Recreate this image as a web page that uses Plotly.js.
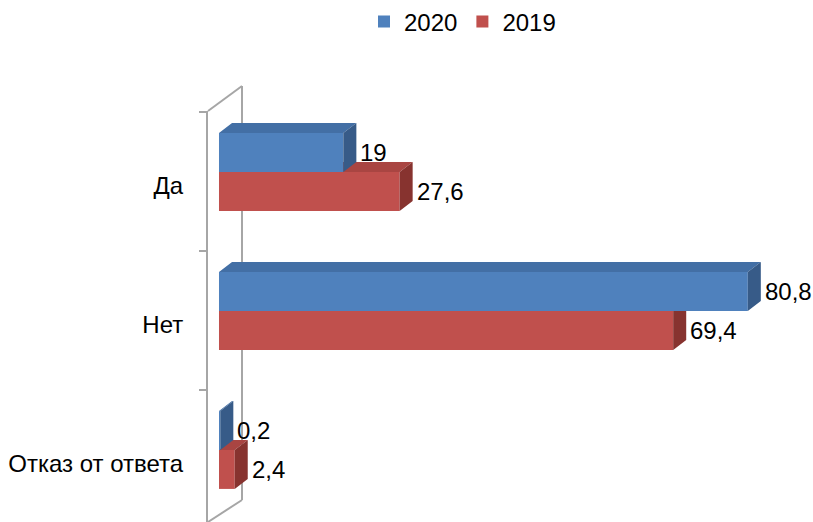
<!DOCTYPE html>
<html><head><meta charset="utf-8">
<script src="https://cdn.plot.ly/plotly-3.0.1.min.js"></script>
<style>html,body{margin:0;padding:0;background:#fff}</style>
</head><body><div id="chart" style="width:813px;height:522px"></div>
<script>
// ---- data ----
const categories = ['Да', 'Нет', 'Отказ от ответа'];
const seriesNames = ['2020', '2019'];
const values2020 = [19, 80.8, 0.2];
const values2019 = [27.6, 69.4, 2.4];
const catPos = [0, 1, 2];

// ---- style constants ----
const W = 0.28;      // bar thickness (y units)
const DX = 1.99;     // 3D depth along x (x units)
const DY = 0.072;    // 3D depth along y (y units)
const FONT = {family: 'Liberation Sans, Arial, sans-serif', size: 24, color: '#000'};
const BLUE = {front: '#4F81BD', top: '#436FA5', side: '#375B88'};
const RED = {front: '#C0504D', top: '#A94542', side: '#87332F'};
const WALL = '#A6A6A6';

function fmt(v) { return String(v).replace('.', ','); }

function faces(vals, upper) {
  const top = {x: [], y: []}, side = {x: [], y: []};
  vals.forEach((v, i) => {
    const y0 = catPos[i] + (upper ? -W : 0), y1 = y0 + W;
    top.x.push(0, DX, v + DX, v, null);
    top.y.push(y0, y0 - DY, y0 - DY, y0, null);
    side.x.push(v, v + DX, v + DX, v, null);
    side.y.push(y0, y0 - DY, y1 - DY, y1, null);
  });
  return [top, side];
}

function faceTrace(f, color, xa, ya) {
  return {type: 'scatter', mode: 'lines', x: f.x, y: f.y, fill: 'toself',
          fillcolor: color, line: {width: 0, color: color}, hoverinfo: 'skip',
          showlegend: false, xaxis: xa, yaxis: ya};
}

const [bTop, bSide] = faces(values2020, true);
const [rTop, rSide] = faces(values2019, false);

const data = [
  {type: 'bar', orientation: 'h', name: seriesNames[0], x: values2020, y: catPos,
   width: W, offset: -W, marker: {color: BLUE.front, line: {width: 0}},
   xaxis: 'x2', yaxis: 'y2', hoverinfo: 'skip'},
  {type: 'bar', orientation: 'h', name: seriesNames[1], x: values2019, y: catPos,
   width: W, offset: 0, marker: {color: RED.front, line: {width: 0}},
   xaxis: 'x', yaxis: 'y', hoverinfo: 'skip'},
  faceTrace(rTop, RED.top, 'x', 'y'),
  faceTrace(rSide, RED.side, 'x', 'y'),
  faceTrace(bTop, BLUE.top, 'x2', 'y2'),
  faceTrace(bSide, BLUE.side, 'x2', 'y2')
];

const annotations = [];
values2020.forEach((v, i) => annotations.push({xref: 'x2', yref: 'y2', x: v, y: catPos[i] - W / 2,
  text: fmt(v), xanchor: 'left', yanchor: 'middle', xshift: 15, showarrow: false, font: FONT}));
values2019.forEach((v, i) => annotations.push({xref: 'x', yref: 'y', x: v, y: catPos[i] + W / 2,
  text: fmt(v), xanchor: 'left', yanchor: 'middle', xshift: 15, showarrow: false, font: FONT}));

// plot area: left 208, right 808, top 111, bottom 522
const L = 208, R = 808, T = 111, B = 522;
const px = x => (x - L) / (R - L);
const py = y => (B - y) / (B - T);
const shapes = [
  {type: 'line', xref: 'paper', yref: 'paper', x0: px(208), y0: py(111), x1: px(242), y1: py(86), line: {color: WALL, width: 2}, layer: 'below'},
  {type: 'line', xref: 'paper', yref: 'paper', x0: px(242), y0: py(86), x1: px(242), y1: py(500), line: {color: WALL, width: 2}, layer: 'below'},
  {type: 'line', xref: 'paper', yref: 'paper', x0: px(242), y0: py(500), x1: px(208), y1: py(522), line: {color: WALL, width: 2}, layer: 'below'}
];

const xr = [-1.68, 90];
const yr = [2.518, -0.4388];
const layout = {
  width: 813, height: 522,
  margin: {l: L, r: 813 - R, t: T, b: 0, pad: 0},
  paper_bgcolor: '#fff', plot_bgcolor: 'rgba(0,0,0,0)',
  font: FONT,
  barmode: 'overlay',
  showlegend: true,
  legend: {orientation: 'h', xref: 'container', yref: 'container', x: 364 / 813, xanchor: 'left',
           y: 1 - 22 / 522, yanchor: 'middle', font: FONT, traceorder: 'normal'},
  xaxis: {range: xr, visible: false, fixedrange: true},
  xaxis2: {range: xr, visible: false, overlaying: 'x', fixedrange: true},
  yaxis: {range: yr, tickmode: 'array', tickvals: catPos, ticktext: categories, ticks: '',
          showline: true, linecolor: WALL, linewidth: 2, showgrid: false, zeroline: false,
          ticklabelshift: -14, ticklabelstandoff: 18, tickfont: FONT, fixedrange: true,
          minor: {tickmode: 'array', tickvals: catPos.map(c => c - 0.435), ticks: 'outside',
                  ticklen: 7, tickwidth: 2, tickcolor: WALL, showgrid: false}},
  yaxis2: {range: yr, visible: false, overlaying: 'y', fixedrange: true},
  annotations: annotations,
  shapes: shapes
};

Plotly.newPlot('chart', data, layout, {displayModeBar: false, staticPlot: true});
</script>
</body></html>
